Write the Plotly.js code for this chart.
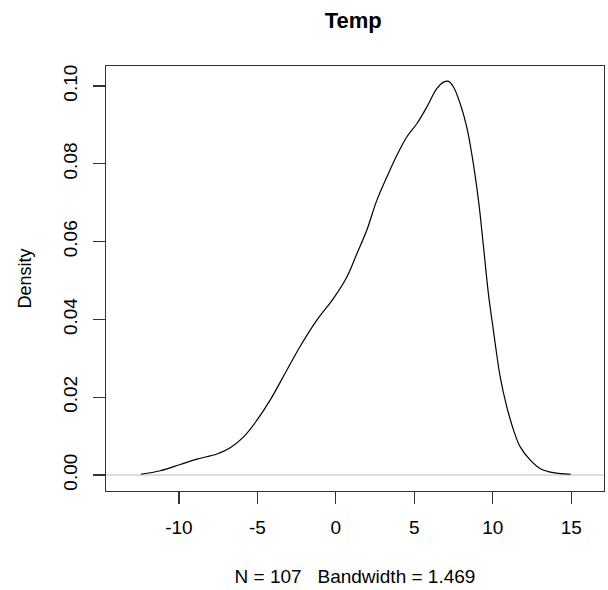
<!DOCTYPE html>
<html>
<head>
<meta charset="utf-8">
<script src="https://cdn.plot.ly/plotly-3.0.1.min.js"></script>
<style>html,body{margin:0;padding:0;background:#fff;}#plot{width:608px;height:590px;}</style>
</head>
<body>
<div id="plot"></div>
<script>
// Kernel density estimate of Temp
const tempX = [-12.42, -11.19, -9.92, -8.85, -7.58, -6.73, -5.88, -5.03, -4.18, -3.12, -2.27, -1.21, -0.15, 0.70, 1.34, 1.97, 2.61, 3.25, 3.89, 4.52, 5.16, 5.80, 6.43, 6.86, 7.18, 7.49, 7.92, 8.34, 8.66, 9.09, 9.41, 9.72, 10.04, 10.47, 10.89, 11.32, 11.74, 12.38, 13.01, 13.86, 14.97];
const density = [0.0002, 0.0011, 0.0027, 0.0041, 0.0054, 0.0070, 0.0098, 0.0141, 0.0193, 0.0270, 0.0331, 0.0398, 0.0454, 0.0509, 0.0569, 0.0629, 0.0706, 0.0766, 0.0822, 0.0869, 0.0903, 0.0946, 0.0993, 0.1010, 0.1012, 0.0998, 0.0955, 0.0895, 0.0826, 0.0706, 0.0587, 0.0467, 0.0372, 0.0253, 0.0176, 0.0116, 0.0073, 0.0039, 0.0017, 0.0006, 0.0002];
const xTicks = [-10, -5, 0, 5, 10, 15];
const yTicks = [0.00, 0.02, 0.04, 0.06, 0.08, 0.10];
const yTickText = ["0.00", "0.02", "0.04", "0.06", "0.08", "0.10"];
const titleText = "Temp";
const xTitle = "N = 107   Bandwidth = 1.469";
const yTitle = "Density";

const font = "Liberation Sans, Arial, sans-serif";
const trace = {
  x: tempX, y: density, type: "scatter", mode: "lines",
  line: {color: "#000", width: 1.2, shape: "spline", smoothing: 1},
  hoverinfo: "skip"
};
const layout = {
  width: 608, height: 590,
  margin: {l: 106, r: 4, t: 66, b: 99},
  paper_bgcolor: "#fff", plot_bgcolor: "#fff",
  showlegend: false,
  font: {family: font, size: 19, color: "#000"},
  title: {text: "<b>" + titleText + "</b>", x: 0.581, xanchor: "center", y: 0.966, yanchor: "middle", font: {family: font, size: 22, color: "#000"}},
  xaxis: {
    range: [-14.65, 17.09], tickvals: xTicks, ticktext: xTicks.map(String),
    showgrid: false, zeroline: false, showline: true, mirror: true, linecolor: "#333", linewidth: 1.2,
    ticks: "outside", ticklen: 12, tickcolor: "#333", tickwidth: 1.2, ticklabelstandoff: 7,
    tickfont: {family: font, size: 19, color: "#000"},
    title: {text: xTitle, font: {family: font, size: 19, color: "#000"}, standoff: 32}
  },
  yaxis: {
    range: [-0.00411, 0.10514], tickvals: yTicks, ticktext: yTickText, tickangle: -90,
    showgrid: false, zeroline: false, showline: true, mirror: true, linecolor: "#333", linewidth: 1.2,
    ticks: "outside", ticklen: 12, tickcolor: "#333", tickwidth: 1.2, ticklabelstandoff: 8,
    tickfont: {family: font, size: 19, color: "#000"},
    title: {text: yTitle, font: {family: font, size: 18, color: "#000"}, standoff: 24}
  },
  shapes: [{type: "line", xref: "paper", x0: 0, x1: 1, yref: "y", y0: 0, y1: 0, line: {color: "#bebebe", width: 1.2}, layer: "below"}]
};
Plotly.newPlot("plot", [trace], layout, {staticPlot: true, displayModeBar: false});
</script>
</body>
</html>
